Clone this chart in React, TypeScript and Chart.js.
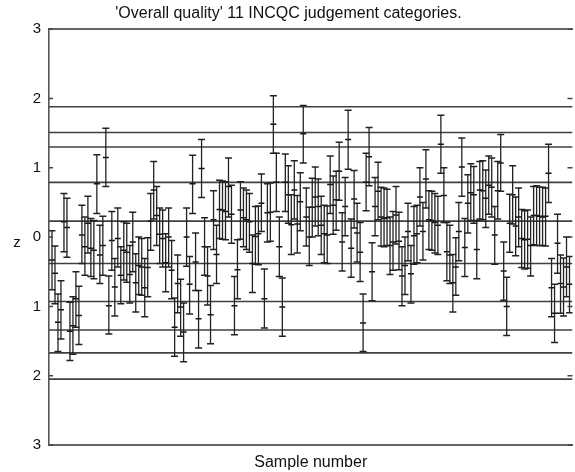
import React, { useEffect, useRef } from 'react';
import { Chart, registerables } from 'chart.js';

Chart.register(...registerables);

const TITLE = "'Overall quality' 11 INCQC judgement categories.";
const X_TITLE = 'Sample number';
const Y_TITLE = 'z';
const Y_TICKS = [-3, -2, -1, 0, 1, 2, 3];
const Y_TICK_LABELS = ['3', '2', '1', '0', '1', '2', '3'];
const X_MIN = 0;
const X_MAX = 175;

// boundaries between the 11 judgement categories (z)
const CATEGORY_BOUNDS = [1.88, 1.51, 1.3, 0.79, 0.23, -0.38, -0.93, -1.34, -1.67, -2.05];

// per-sample z: upper limit, mean, lower limit
const zUpper = [
  0.09, -0.13, -0.82, -0.63, 0.63, 0.56, -0.94, -0.86, -0.5, -0.71,
  0.46, 0.29, 0.59, 0.27, 0.24, 1.19, 0.17, 0.3, 1.57, -0.56,
  0.37, -0.31, 0.42, -0.14, 0.22, 0.2, -0.12, 0.36, -0.24, 0.0,
  -0.02, -0.31, -0.01, 0.63, 1.09, 0.73, 0.42, 0.39, 0.05, 0.42,
  -0.05, -0.88, -0.26, -0.61, -0.95, 0.42, -0.28, 1.18, 0.06, -0.77,
  1.41, 0.28, -0.14, -0.7, 0.67, 0.17, 0.82, 0.81, 0.8, 1.14,
  0.75, -0.57, -0.04, 0.8, 0.71, 0.68, 0.63, 0.03, 0.44, 0.45,
  0.91, -0.46, 0.77, 0.78, 2.04, 1.21, 0.29, -0.59, 1.2, 1.03,
  0.61, 1.1, 0.6, 0.93, 1.9, 0.71, 0.43, 0.85, 1.01, 0.84,
  0.59, 0.46, 0.45, 1.17, 0.88, 0.95, 1.37, 0.35, 0.86, 1.83,
  0.26, 0.96, 0.49, 0.21, -0.82, 1.21, 1.58, -0.08, 0.86, 1.08,
  0.72, 0.71, 0.69, 0.29, 0.37, 0.73, 0.36, -0.14, 0.0, 0.49,
  -0.12, 0.44, 0.46, 1.0, 0.5, 1.26, 0.67, 0.66, 0.63, 0.59,
  1.76, 1.0, 0.21, 0.17, -0.25, -0.01, 0.5, 1.43, 0.27, 0.9,
  1.06, 1.02, 0.24, 1.09, 1.1, 0.97, 1.17, 1.14, 0.44, 1.09,
  1.48, -0.07, -0.58, 0.62, 1.03, 0.58, 0.71, 0.4, 0.38, 0.39,
  0.29, 0.73, 0.74, 0.72, 0.72, 0.71, 1.34, -0.31, -0.68, 0.33,
  -0.26, -0.3, 0.0, -0.28,
];

const zMean = [
  -0.33, -0.52, -1.23, -1.05, 0.22, 0.14, -1.36, -1.28, -0.89, -1.13,
  0.03, -0.14, 0.2, -0.16, -0.19, 0.77, -0.26, -0.12, 1.15, -0.99,
  -0.05, -0.72, -0.02, -0.55, -0.19, -0.22, -0.54, -0.07, -0.66, -0.41,
  -0.43, -0.73, -0.44, 0.23, 0.68, 0.31, 0.04, -0.02, -0.37, 0.0,
  -0.48, -1.3, -0.67, -1.01, -1.37, 0.0, -0.68, 0.77, -0.36, -1.18,
  0.99, -0.14, -0.56, -1.12, 0.25, -0.25, 0.4, 0.39, 0.37, 0.73,
  0.33, -0.99, -0.47, 0.39, 0.28, 0.25, 0.22, -0.38, 0.01, 0.05,
  0.49, -0.89, 0.35, 0.36, 1.63, 0.79, -0.14, -1.01, 0.79, 0.61,
  0.18, 0.68, 0.19, 0.51, 1.49, 0.29, 0.0, 0.43, 0.58, 0.44,
  0.17, 0.05, 0.03, 0.76, 0.46, 0.54, 0.95, -0.07, 0.44, 1.41,
  -0.16, 0.55, 0.06, -0.22, -1.24, 0.79, 1.16, -0.5, 0.44, 0.66,
  0.29, 0.27, 0.28, -0.12, -0.07, 0.32, -0.06, -0.56, -0.41, 0.08,
  -0.53, 0.02, 0.05, 0.58, 0.08, 0.84, 0.25, 0.24, 0.21, 0.17,
  1.34, 0.6, -0.21, -0.26, -0.66, -0.43, 0.08, 1.01, -0.15, 0.49,
  0.64, 0.61, -0.18, 0.68, 0.67, 0.56, 0.75, 0.72, 0.03, 0.67,
  1.07, -0.49, -1.0, 0.2, 0.61, 0.16, 0.29, -0.02, -0.04, -0.03,
  -0.12, 0.31, 0.31, 0.3, 0.29, 0.3, 0.92, -0.73, -1.1, -0.09,
  -0.67, -0.72, -0.43, -0.68,
];

const zLower = [
  -0.76, -0.96, -1.65, -1.47, -0.21, -0.29, -1.78, -1.69, -1.3, -1.55,
  -0.38, -0.55, -0.23, -0.57, -0.6, 0.34, -0.67, -0.55, 0.73, -1.4,
  -0.48, -1.14, -0.43, -0.96, -0.62, -0.65, -0.95, -0.5, -1.08, -0.83,
  -0.84, -1.15, -0.86, -0.19, 0.26, -0.12, -0.38, -0.43, -0.79, -0.43,
  -0.89, -1.72, -1.09, -1.43, -1.8, -0.42, -1.11, 0.34, -0.77, -1.6,
  0.57, -0.55, -0.98, -1.54, -0.18, -0.67, -0.02, -0.03, -0.04, 0.29,
  -0.09, -1.41, -0.89, -0.03, -0.14, -0.18, -0.22, -0.8, -0.39, -0.4,
  0.08, -1.31, -0.07, -0.06, 1.21, 0.37, -0.57, -1.43, 0.37, 0.2,
  -0.25, 0.26, -0.23, 0.09, 1.07, -0.13, -0.41, 0.0, 0.16, 0.02,
  -0.25, -0.37, -0.38, 0.34, 0.04, 0.1, 0.53, -0.49, 0.02, 0.98,
  -0.58, 0.13, -0.36, -0.64, -1.65, 0.38, 0.74, -0.92, 0.02, 0.25,
  -0.13, -0.14, -0.12, -0.54, -0.48, -0.1, -0.47, -0.99, -0.83, -0.34,
  -0.95, -0.39, -0.37, 0.16, -0.33, 0.42, -0.18, -0.19, -0.23, -0.25,
  0.92, 0.21, -0.63, -0.67, -1.08, -0.84, -0.34, 0.59, -0.57, 0.06,
  0.24, 0.2, -0.6, 0.26, 0.25, 0.14, 0.33, 0.29, -0.39, 0.26,
  0.66, -0.91, -1.42, -0.22, 0.19, -0.27, -0.14, -0.44, -0.46, -0.45,
  -0.56, -0.11, -0.12, -0.12, -0.12, -0.13, 0.5, -1.15, -1.52, -0.52,
  -1.1, -1.14, -0.86, -1.09,
];

const samples = zMean.map((_, i) => i + 1);

const FONT = '"Liberation Sans", Arial, Helvetica, sans-serif';
const INK = '#111';

const frameTicks = {
  id: 'frameTicks',
  afterDatasetsDraw(chart: any) {
    const { ctx, chartArea, scales } = chart;
    const y = scales.y;
    ctx.save();
    ctx.strokeStyle = '#444';
    ctx.lineWidth = 1.5;
    ctx.beginPath();
    for (const v of Y_TICKS) {
      const py = y.getPixelForValue(v);
      ctx.moveTo(chartArea.left, py);
      ctx.lineTo(chartArea.left + 4, py);
      ctx.moveTo(chartArea.right - 5, py);
      ctx.lineTo(chartArea.right, py);
    }
    ctx.stroke();
    ctx.fillStyle = INK;
    ctx.font = '15px ' + FONT;
    ctx.textAlign = 'center';
    ctx.textBaseline = 'alphabetic';
    ctx.fillText(Y_TITLE, 17, y.getPixelForValue(0) + 10);
    ctx.restore();
  },
};

export default function App() {
  const ref = useRef<HTMLCanvasElement>(null);

  useEffect(() => {
    const categoryLines = CATEGORY_BOUNDS.map((b) => ({
      type: 'line' as const,
      data: [
        { x: X_MIN, y: b },
        { x: X_MAX, y: b },
      ],
      borderColor: '#404040',
      borderWidth: 1.6,
      pointRadius: 0,
      showLine: true,
    }));

    const whiskers: any[] = [];
    samples.forEach((s, i) => {
      whiskers.push({ x: s, y: zLower[i] }, { x: s, y: zUpper[i] }, { x: s, y: null });
    });

    const caps = samples
      .map((s, i) => ({ x: s, y: zUpper[i] }))
      .concat(samples.map((s, i) => ({ x: s, y: zLower[i] })));
    const means = samples.map((s, i) => ({ x: s, y: zMean[i] }));

    const chart = new Chart(ref.current as HTMLCanvasElement, {
      type: 'scatter',
      data: {
        datasets: [
          {
            type: 'line',
            data: whiskers,
            borderColor: '#222',
            borderWidth: 1.3,
            pointRadius: 0,
            spanGaps: false,
            showLine: true,
          } as any,
          {
            data: caps,
            pointStyle: 'line',
            pointRadius: 3.5,
            pointBorderWidth: 1.5,
            pointBorderColor: '#222',
            pointBackgroundColor: '#222',
          } as any,
          {
            data: means,
            pointStyle: 'line',
            pointRadius: 3,
            pointBorderWidth: 1.5,
            pointBorderColor: '#111',
            pointBackgroundColor: '#111',
          } as any,
          ...categoryLines,
        ],
      },
      options: {
        animation: false,
        responsive: false,
        events: [],
        layout: { padding: { left: 0, right: 1, top: 0, bottom: 0 } },
        plugins: {
          legend: { display: false },
          tooltip: { enabled: false },
          title: {
            display: true,
            text: TITLE,
            color: INK,
            font: { family: FONT, size: 16, weight: 'normal' },
            padding: { top: 4, bottom: 6 },
          },
        },
        scales: {
          x: {
            type: 'linear',
            position: 'bottom',
            min: X_MIN,
            max: X_MAX,
            grid: { display: false, drawTicks: false },
            border: { display: true, color: '#666', width: 2 },
            ticks: { display: false },
            title: {
              display: true,
              text: X_TITLE,
              color: INK,
              font: { family: FONT, size: 16 },
              padding: { top: 0, bottom: 0 },
            },
            afterFit: (s: any) => {
              s.height = 27;
            },
          },
          x2: {
            type: 'linear',
            position: 'top',
            display: true,
            min: X_MIN,
            max: X_MAX,
            grid: { display: false, drawTicks: false },
            border: { display: true, color: '#666', width: 2 },
            ticks: { display: false },
            afterFit: (s: any) => {
              s.height = 0;
            },
          },
          y: {
            type: 'linear',
            position: 'left',
            min: -3,
            max: 3,
            grid: { display: false, drawTicks: false },
            border: { display: true, color: '#555', width: 1.6 },
            ticks: {
              stepSize: 1,
              color: INK,
              padding: 8,
              font: { family: FONT, size: 15 },
              callback: (v: any) => {
                const k = Y_TICKS.indexOf(Number(v));
                return k >= 0 ? Y_TICK_LABELS[k] : '';
              },
            },
            afterFit: (s: any) => {
              s.width = 49;
            },
          },
        },
      } as any,
      plugins: [frameTicks],
    });
    return () => chart.destroy();
  }, []);

  return (
    <div
      style={{
        position: 'fixed',
        left: 0,
        top: 0,
        width: 575,
        height: 472,
        overflow: 'hidden',
        background: '#fff',
      }}
    >
      <canvas ref={ref} width={578} height={472} style={{ display: 'block' }} />
    </div>
  );
}
